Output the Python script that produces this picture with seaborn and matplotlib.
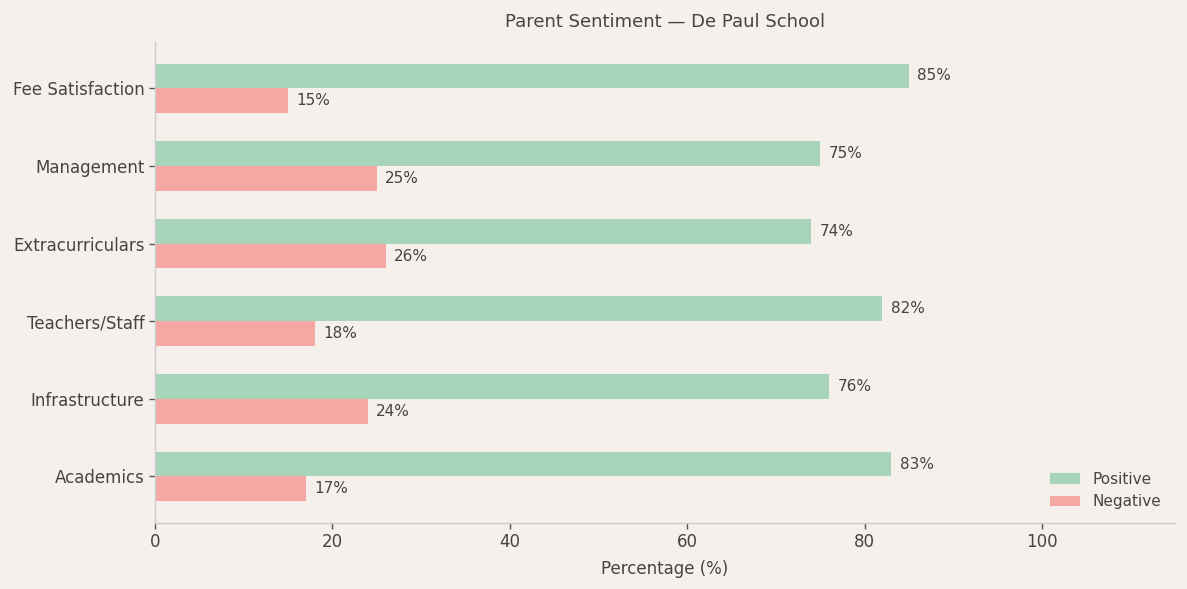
import matplotlib
matplotlib.use("Agg")
import matplotlib.pyplot as plt
import seaborn as sns
import pandas as pd

categories = ["Fee Satisfaction", "Management", "Extracurriculars",
              "Teachers/Staff", "Infrastructure", "Academics"]
positive = [85, 75, 74, 82, 76, 83]
negative = [15, 25, 26, 18, 24, 17]
series_names = ["Positive", "Negative"]
colors = ["#a8d5ba", "#f5a7a3"]

bg = "#f5f0ec"
txt = "#444444"
spine = "#cccccc"

sns.set_theme(style="white")
plt.rcParams["font.family"] = ["DejaVu Sans"]

df = pd.DataFrame({
    "Category": categories * 2,
    "Percent": positive + negative,
    "Sentiment": [series_names[0]] * len(categories) + [series_names[1]] * len(categories),
})

fig, ax = plt.subplots(figsize=(11.87, 5.89), dpi=100)
fig.patch.set_facecolor(bg)
ax.set_facecolor(bg)

sns.barplot(data=df, y="Category", x="Percent", hue="Sentiment",
            order=categories, hue_order=series_names,
            palette=colors, saturation=1, width=0.64, orient="h",
            linewidth=0, edgecolor="none", ax=ax)

for cont in ax.containers:
    ax.bar_label(cont, fmt="%g%%", padding=6, fontsize=11, color=txt)

ax.set_xlim(0, 115)
ax.set_ylim(5.6, -0.6)
ax.set_xlabel("Percentage (%)", fontsize=12, color=txt, labelpad=6)
ax.set_ylabel("")
ax.set_title("Parent Sentiment — De Paul School", fontsize=13, color=txt, pad=11)

ax.tick_params(axis="both", colors=txt, labelsize=12, length=4, width=1,
               color="#555555", bottom=True, left=True)
for s in ["top", "right"]:
    ax.spines[s].set_visible(False)
for s in ["left", "bottom"]:
    ax.spines[s].set_color(spine)
    ax.spines[s].set_linewidth(1)

leg = ax.legend(frameon=False, loc="lower right", fontsize=11)
for t in leg.get_texts():
    t.set_color(txt)
for h in leg.legend_handles:
    h.set_edgecolor("none")
    h.set_linewidth(0)

fig.subplots_adjust(left=0.1306, right=0.99, top=0.929, bottom=0.112)
fig.savefig("out.png", dpi=100, facecolor=bg)
